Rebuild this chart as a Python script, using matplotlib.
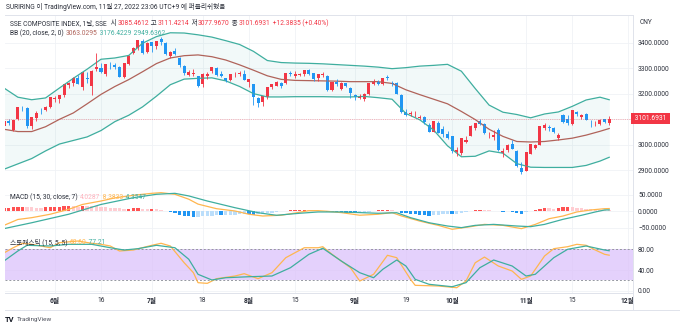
import numpy as np
import matplotlib.pyplot as plt
from matplotlib.lines import Line2D
from matplotlib.text import Annotation
from matplotlib.transforms import blended_transform_factory

plt.rcParams['font.family'] = ['Roboto', 'Noto Sans CJK KR', 'DejaVu Sans']

# 일봉 2022-05-17 ~ 2022-11-25 (위치 0..131)
opens = [3074, 3094, 3058, 3100, 3148, 3145, 3071, 3103, 3133, 3137, 3147,
         3180, 3177, 3195, 3233, 3243, 3262, 3226, 3262, 3229, 3296, 3300, 3276, 3318, 3314, 3303, 3264, 3318, 3360, 3380, 3405, 3364,
         3402, 3389, 3413, 3397, 3346, 3368, 3339, 3307, 3274, 3279, 3271, 3237, 3270, 3289, 3301, 3277, 3262, 3253, 3272, 3279, 3278,
         3246, 3237, 3182, 3167, 3185, 3227, 3231, 3240, 3240, 3280, 3269, 3275, 3276, 3291, 3280, 3260, 3274, 3271, 3215, 3245, 3217, 3241, 3222,
         3194, 3182, 3180, 3198, 3239, 3246, 3236, 3265, 3240, 3243, 3194, 3127, 3121, 3116, 3104, 3107, 3076, 3049, 3083, 3061, 3043,
         3033, 2970, 2966, 3009, 3033, 3064, 3091, 3079, 3034, 3028, 3059, 2966, 2979, 3004, 2974, 2907,
         2896, 2964, 2986, 2999, 3066, 3069, 3066, 3024, 3117, 3099, 3079, 3129, 3110, 3120, 3086, 3087, 3079, 3099, 3085.4612]
highs = [3094, 3099, 3098, 3149, 3153, 3148, 3107, 3130, 3142, 3150, 3187,
         3189, 3196, 3237, 3246, 3264, 3273, 3286, 3283, 3292, 3358, 3319, 3317, 3323, 3320, 3310, 3320, 3350, 3382, 3410, 3414, 3404,
         3404, 3406, 3424, 3401, 3367, 3379, 3342, 3313, 3294, 3295, 3271, 3280, 3283, 3306, 3305, 3288, 3263, 3278, 3286, 3290, 3291,
         3259, 3239, 3186, 3190, 3227, 3239, 3248, 3245, 3281, 3287, 3287, 3281, 3293, 3295, 3281, 3278, 3284, 3275, 3247, 3258, 3244, 3243, 3226,
         3200, 3199, 3203, 3243, 3256, 3254, 3263, 3272, 3248, 3246, 3197, 3139, 3130, 3130, 3117, 3113, 3086, 3093, 3093, 3072, 3055,
         3033, 2992, 3026, 3032, 3076, 3085, 3099, 3083, 3051, 3058, 3066, 2986, 3003, 3019, 2977, 2930,
         2970, 3004, 3002, 3074, 3083, 3076, 3069, 3046, 3121, 3116, 3135, 3131, 3119, 3125, 3095, 3091, 3100, 3101, 3111.4214]
lows = [3065, 3075, 3054, 3098, 3133, 3064, 3060, 3093, 3121, 3131, 3144,
        3166, 3164, 3187, 3221, 3230, 3238, 3216, 3243, 3195, 3290, 3280, 3270, 3298, 3296, 3267, 3260, 3313, 3356, 3370, 3357, 3360,
        3365, 3377, 3392, 3353, 3340, 3352, 3305, 3274, 3270, 3270, 3226, 3226, 3258, 3282, 3270, 3264, 3245, 3250, 3266, 3271, 3253,
        3227, 3155, 3148, 3153, 3180, 3219, 3228, 3223, 3237, 3270, 3262, 3269, 3270, 3274, 3251, 3250, 3266, 3212, 3209, 3231, 3216, 3227, 3182,
        3175, 3177, 3172, 3196, 3234, 3233, 3235, 3254, 3231, 3198, 3124, 3111, 3113, 3110, 3099, 3079, 3049, 3049, 3044, 3031, 3021,
        2968, 2955, 2957, 3007, 3032, 3056, 3077, 3040, 3026, 3018, 2976, 2953, 2972, 2982, 2912, 2886,
        2896, 2963, 2981, 2999, 3056, 3054, 3047, 3018, 3083, 3075, 3075, 3114, 3101, 3097, 3067, 3071, 3076, 3083, 3077.9670]
closes = [3093, 3086, 3096, 3146, 3147, 3071, 3107, 3123, 3131, 3149, 3186,
          3182, 3195, 3236, 3241, 3263, 3239, 3285, 3256, 3289, 3305, 3285, 3316, 3315, 3306, 3267, 3320, 3349, 3379, 3409, 3361, 3399,
          3388, 3405, 3404, 3355, 3364, 3356, 3313, 3281, 3284, 3282, 3228, 3278, 3279, 3305, 3272, 3270, 3250, 3277, 3275, 3282, 3253,
          3259, 3186, 3163, 3189, 3227, 3236, 3247, 3230, 3281, 3277, 3276, 3277, 3293, 3278, 3258, 3277, 3276, 3215, 3246, 3236, 3240, 3228, 3202,
          3185, 3186, 3200, 3243, 3247, 3236, 3262, 3263, 3237, 3199, 3126, 3115, 3122, 3117, 3108, 3089, 3051, 3093, 3045, 3041, 3024,
          2974, 2980, 3025, 3016, 3071, 3084, 3081, 3044, 3035, 3038, 2977, 2976, 2999, 2983, 2916, 2893,
          2969, 3003, 2998, 3071, 3077, 3064, 3048, 3036, 3087, 3084, 3135, 3120, 3115, 3097, 3085, 3088, 3097, 3089, 3101.6931]

# 볼린저 밴드
bb_x = list(range(0, 130, 3)) + [131]
bb_upper = [3222, 3186, 3176, 3183, 3222, 3260, 3296, 3335, 3340, 3350,
            3398, 3424, 3439, 3438, 3431, 3422, 3408, 3393, 3366, 3330,
            3322, 3320, 3319, 3317, 3314, 3311, 3308, 3304, 3298, 3302,
            3308, 3311, 3315, 3288, 3220, 3155, 3127, 3118, 3105, 3120,
            3128, 3150, 3175, 3186, 3176]
bb_basis = [3060, 3051, 3051, 3070, 3099, 3124, 3160, 3197, 3228, 3255,
            3286, 3318, 3340, 3349, 3352, 3345, 3332, 3313, 3292, 3270,
            3256, 3252, 3251, 3250, 3249, 3247, 3247, 3247, 3240, 3215,
            3196, 3178, 3160, 3130, 3098, 3060, 3032, 3012, 3010, 3012,
            3018, 3025, 3037, 3052, 3063]
bb_lower = [2903, 2924, 2945, 2975, 3002, 3016, 3030, 3055, 3090, 3115,
            3148, 3190, 3235, 3257, 3260, 3262, 3250, 3228, 3200, 3187,
            3187, 3188, 3188, 3188, 3187, 3187, 3189, 3184, 3178, 3122,
            3097, 3057, 2995, 2952, 2954, 2975, 2966, 2925, 2911, 2910,
            2910, 2910, 2918, 2935, 2950]

# MACD (15, 30, 7)
macd_x = [0, 3, 6, 10, 14, 17, 21, 24, 28, 32, 34, 37, 40, 42, 46, 50, 53, 56, 60, 64,
          66, 68, 70, 73, 77, 81, 84, 86, 90, 94, 97, 101, 104, 108, 112, 115, 118, 121, 124, 127, 130, 131]
macd_line = [-43, -25, -19.5, -9, 6, 21, 31.5, 41, 49, 55, 57, 52, 37, 22, 8, 1, -9, -14.4, -12, -3,
             2, 2, 0, -4, -12, -9, -4, -14, -30, -43, -55, -47, -40, -43, -53, -40, -22.6, -14.4, -2, 4, 8, 8.38]
signal_x = [0, 6, 14, 21, 28, 33, 37, 40, 44, 50, 55, 59, 64, 68, 73, 81, 85, 88, 92, 96,
            99, 102, 106, 111, 114, 117, 121, 125, 128, 130, 131]
signal_line = [-53, -35, -9, 21, 41.6, 52, 55, 47, 31.5, 11, -4.3, -12.2, -6, -2, -2, -6, -4.3, -19.5, -35, -45,
               -50, -43, -40, -45, -47, -40, -24.5, -12.2, -2, 4, 4.35]
macd_hist = [10, 11, 12, 13, 14, 13, 12, 11.5, 11, 12, 13, 13.5, 14, 15, 15.5, 15, 14, 17,
             16, 15.5, 15, 13, 12.5, 11.5, 10.5, 9, 8, 8.5, 9, 10, 8.5, 8, 8.5, 6.5, 4.5, 1,
             -3, -6, -10, -13, -15, -16.5, -16, -15, -14, -13, -12, -12.5, -12, -11, -10, -9, -8.5,
             -9.5, -10.5, -9, -7.5, -6, -4, -2, 0.5, 2, 3, 3.5, 4, 4.5, 3.5, 2, 0.5,
             -0.5, -2, -2.5, -3, -4, -5, -6, -6.5, -5.5, -4, -1.5, 1.5, 3, 4.5, 5.5, 3.5, 1,
             -4, -6, -8, -9.5, -11, -12, -13, -11.5, -10, -9, -8, -9, -7, -4.5, -2,
             2, 4, 5, 4, 3, 2, 0.5, -1, -0.5, -3, -5, -7, -3,
             2, 5, 7.5, 9.5, 9, 8, 10, 12, 13.5, 12.5, 11, 9.5, 8, 6.5, 5.5, 5, 4.5, 4.03]

# 스토캐스틱 (15, 5, 5)
k_x = [0, 2, 4, 6, 10, 12, 16, 19, 21, 23, 25, 28, 32, 34, 36, 39, 41, 42, 44, 46,
       50, 52, 55, 58, 61, 65, 68, 69, 71, 75, 77, 80, 83, 85, 88, 89, 94, 98, 100, 102,
       104, 107, 110, 112, 114, 117, 119, 122, 124, 126, 128, 130, 131]
stoch_k = [73, 83, 91.6, 89.6, 83, 92.8, 96, 91.6, 89.6, 86.4, 76.7, 78.6, 87.7, 91.6, 86.4, 54, 34.8, 15.5, 14.2, 23.2,
           28.4, 32.9, 23.2, 34.8, 63.8, 83, 83, 85, 70.3, 44.4, 18.7, 31.7, 68.4, 63.8, 22, 10.4, 9.1, 5.8, 18.7, 54,
           65, 47.7, 38, 22, 28.4, 67, 81.2, 85, 89.6, 87.7, 78.6, 70.3, 68.6]
d_x = [0, 3, 5, 10, 14, 19, 23, 26, 29, 33, 37, 40, 42, 45, 48, 53, 58, 62, 66, 69,
       73, 77, 80, 82, 85, 87, 89, 92, 97, 100, 103, 106, 110, 113, 115, 119, 122, 126, 130, 131]
stoch_d = [57.4, 76.7, 87.7, 86.4, 89.6, 89.6, 83, 78.6, 81.2, 87.7, 83, 60.7, 31.7, 20.7, 25.1, 27, 28.4, 44.4, 70.3, 82,
           57.4, 34.8, 25.1, 41.4, 59.3, 47.7, 22, 12.4, 7.7, 15.5, 44.4, 59.3, 47.7, 28.4, 31.7, 63.8, 80, 86.4, 78.6, 77.21]

tick_pos = [11, 21, 32, 43, 53, 63, 76, 87, 97, 113, 123, 135]
tick_labels = ['6월', '16', '7월', '18', '8월', '15', '9월', '19', '10월', '11월', '15', '12월']

RED = '#f23645'
BLUE = '#2196f3'
TEAL = '#3fae9f'
BASIS = '#b0635a'
ORANGE = '#ffb64f'
TXT = '#2a2e39'
GRID = '#f0f2f6'
LINE = '#e0e3eb'
FS = 4.8

W, H = 680, 328
fig = plt.figure(figsize=(W / 100, H / 100), dpi=100)


def box(x0, y0, x1, y1):
    return [x0 / W, 1 - y1 / H, (x1 - x0) / W, (y1 - y0) / H]


ax_p = fig.add_axes(box(5, 15, 633, 187.7))
ax_m = fig.add_axes(box(5, 187.7, 633, 233.5), sharex=ax_p)
ax_s = fig.add_axes(box(5, 233.5, 633, 293.3), sharex=ax_p)

for ax in (ax_p, ax_m, ax_s):
    ax.set_facecolor('white')
    for side in ('left', 'top'):
        ax.spines[side].set_visible(False)
    for side in ('right', 'bottom'):
        ax.spines[side].set_color(LINE)
        ax.spines[side].set_linewidth(0.7)
    ax.yaxis.tick_right()
    ax.tick_params(axis='y', length=0, pad=3.6, labelsize=FS, labelcolor=TXT)
    ax.tick_params(axis='x', length=0)
    ax.grid(True, color=GRID, linewidth=0.6)
    ax.set_axisbelow(True)
    ax.set_xticks(tick_pos)
ax_p.spines['top'].set_visible(True)
ax_p.spines['top'].set_color(LINE)
ax_p.spines['top'].set_linewidth(0.7)

ax_p.set_xlim(0.22, 136.15)

# 가격 패널
pos = np.arange(len(closes))
o = np.array(opens)
c = np.array(closes)
colors = np.where(c >= o, RED, BLUE)
ax_p.fill_between(bb_x, bb_lower, bb_upper, color='#26a69a', alpha=0.06, linewidth=0)
ax_p.plot(bb_x, bb_upper, color=TEAL, linewidth=0.9)
ax_p.plot(bb_x, bb_lower, color=TEAL, linewidth=0.9)
ax_p.plot(bb_x, bb_basis, color=BASIS, linewidth=0.9)
ax_p.vlines(pos, lows, highs, colors=colors, linewidth=0.6)
ax_p.bar(pos, np.maximum(np.abs(c - o), 1.2), bottom=np.minimum(o, c), width=0.66,
         color=colors, linewidth=0)
ax_p.axhline(closes[-1], color=RED, linewidth=0.6, alpha=0.45, linestyle=(0, (1, 1.2)))
ax_p.set_ylim(2830.5, 3508.8)
ax_p.set_yticks([2900, 3000, 3100, 3200, 3300, 3400])
ax_p.set_yticklabels(['2900.0000', '3000.0000', '', '3200.0000', '3300.0000', '3400.0000'])
ax_p.tick_params(axis='x', labelbottom=False)
tr = blended_transform_factory(ax_p.transAxes, ax_p.transData)
ax_p.text(1.0, closes[-1], ' %.4f ' % closes[-1], transform=tr, ha='left', va='center',
          color='white', fontsize=FS, clip_on=False,
          bbox=dict(boxstyle='square,pad=0.3', fc=RED, ec='none'))

# MACD 패널
hist_cols = []
for i, v in enumerate(macd_hist):
    prev = macd_hist[i - 1] if i > 0 else v
    if v >= 0:
        hist_cols.append('#ff5252' if v >= prev else '#ffcdd2')
    else:
        hist_cols.append('#2196f3' if v < prev else '#bbdefb')
ax_m.bar(pos, macd_hist, width=0.72, color=hist_cols, linewidth=0)
ax_m.plot(macd_x, macd_line, color=ORANGE, linewidth=0.9)
ax_m.plot(signal_x, signal_line, color=TEAL, linewidth=0.9)
ax_m.set_ylim(-67.9, 72.2)
ax_m.set_yticks([-50, 0, 50])
ax_m.set_yticklabels(['\u221250.0000', '0.0000', '50.0000'])
ax_m.tick_params(axis='x', labelbottom=False)

# 스토캐스틱 패널
ax_s.axhspan(20, 80, color='#dcc2fb', alpha=0.75, linewidth=0)
ax_s.axhline(80, color='#9598a1', linewidth=0.7, linestyle=(0, (2, 2)))
ax_s.axhline(20, color='#9598a1', linewidth=0.7, linestyle=(0, (2, 2)))
ax_s.plot(k_x, stoch_k, color=ORANGE, linewidth=0.9)
ax_s.plot(d_x, stoch_d, color=TEAL, linewidth=0.9)
ax_s.set_ylim(-5.0, 110.5)
ax_s.set_yticks([0, 40, 80])
ax_s.set_yticklabels(['0.00', '40.00', '80.00'])
ax_s.set_xticklabels(tick_labels)
ax_s.tick_params(axis='x', pad=3, labelsize=FS, labelcolor=TXT)
for lab in ax_s.get_xticklabels():
    if '월' in lab.get_text():
        lab.set_fontweight('bold')

# 테두리
fig.add_artist(Line2D([633 / W, 633 / W], [1 - 293.3 / H, 1 - 310 / H], color=LINE, linewidth=0.7))
fig.add_artist(Line2D([5 / W, 1], [1 - 310 / H, 1 - 310 / H], color=LINE, linewidth=0.7))


def text_row(x, y, parts, size=FS):
    t = fig.text(x / W, 1 - y / H, parts[0][0], color=parts[0][1], fontsize=size,
                 ha='left', va='baseline')
    for s, col in parts[1:]:
        t = fig.add_artist(Annotation(s, xy=(1, 0), xycoords=t, xytext=(0.4, 0),
                                      textcoords='offset points', ha='left', va='bottom',
                                      color=col, fontsize=size, annotation_clip=False))
    return t


text_row(6, 9, [('SURIRING 이 TradingView.com, 11월 27, 2022 23:06 UTC+9 에 퍼블리쉬했음', TXT)])
text_row(10, 25, [('SSE COMPOSITE INDEX, 1날, SSE ', TXT), (' 시', TXT), ('3085.4612', RED), (' 고', TXT),
                  ('3111.4214', RED), (' 저', TXT), ('3077.9670', RED), (' 종', TXT),
                  ('3101.6931', RED), (' +12.3835 (+0.40%)', RED)])
text_row(10, 35, [('BB (20, close, 2, 0) ', TXT), ('3063.0295', BASIS),
                  (' 3176.4229', TEAL), (' 2949.6362', TEAL)])
text_row(10, 199, [('MACD (15, 30, close, 7) ', TXT), ('4.0287', '#ffb3bd'),
                   (' 8.3833', ORANGE), (' 4.3547', TEAL)])
text_row(10, 244, [('스토캐스틱 (15, 5, 5) ', TXT), ('68.60', ORANGE), (' 77.21', TEAL)])
fig.text(640 / W, 1 - 22 / H, 'CNY', fontsize=FS, color=TXT, ha='left', va='center')
fig.text(5 / W, 1 - 320 / H, 'TV', fontsize=5.4, color='#131722', fontweight='bold',
         ha='left', va='center')
fig.text(17 / W, 1 - 320 / H, 'TradingView', fontsize=4.6, color='#50535e',
         ha='left', va='center')

fig.savefig('out.png', dpi=100)
